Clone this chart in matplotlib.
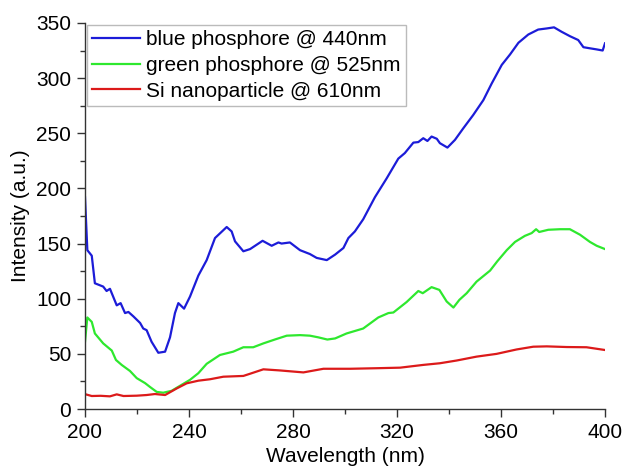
import matplotlib

matplotlib.use("Agg")
import matplotlib.pyplot as plt
from matplotlib.ticker import MultipleLocator

plt.rcParams["font.family"] = ["Liberation Sans", "DejaVu Sans"]

# Values
blue_x = [200, 200.9, 202.6, 203.8, 207, 208.3, 209.6, 212.2, 213.7, 215.4, 216.7,
          218.6, 221.2, 222.4, 223.7, 225.6, 228.2, 230.8, 232.7, 234.6, 235.9,
          238.1, 240.4, 243.6, 246.8, 250, 254.5, 256.4, 257.7, 260.9, 263.5,
          268.3, 271.8, 274.4, 275.6, 278.8, 282.7, 286.5, 289.1, 293, 296.2,
          299.4, 301.3, 303.8, 307, 311.5, 316, 320.5, 323, 326.3, 328.2, 330.1,
          331.7, 333.3, 335.3, 336.5, 339.4, 342.3, 345.5, 349.3, 353.2, 356.4,
          360.3, 363.5, 366.7, 370.5, 374.3, 377.6, 380.4, 383.3, 386.5, 389.7,
          391.7, 394.2, 396.8, 399.1, 400]
blue_y = [192, 144, 139, 114, 111, 107, 109, 94, 96, 87, 88,
          84, 78, 73, 71.5, 61, 51, 52, 65, 87, 96,
          91, 102, 121, 135, 155, 165, 161, 152, 143, 145,
          152.5, 148, 151, 150, 151, 144, 140.5, 137, 135, 140,
          146, 155, 161, 172, 192, 209, 227, 232, 241.5, 242, 245.5,
          243, 247, 245, 241, 237, 244, 254.5, 266.5, 280, 295,
          312, 321.5, 332, 339.5, 344, 345, 346, 342, 338, 334.5,
          328, 327, 326, 325, 331.5]

green_x = [200, 200.9, 202.6, 203.8, 207, 210.3, 211.9, 214.1, 217.3, 219.9, 223.1,
           225, 227.6, 230.1, 233.3, 236.5, 240.4, 243.6, 246.8, 251.9, 257,
           260.9, 264.7, 268.6, 273, 277.6, 282.7, 286.5, 289.7, 293.2, 296.2,
           300.6, 307, 312.8, 316.7, 318.6, 323.7, 328.2, 329.9, 333.3, 336.3,
           339.1, 341.7, 344, 346.8, 350.6, 355.8, 358.6, 362.2, 365.4, 369.2,
           371.8, 373.5, 374.7, 378.2, 382.7, 386.5, 390.4, 394.2, 396.8, 400]
green_y = [61, 83, 79, 68.5, 59.5, 53, 44.5, 40, 34.5, 28, 23.5,
           20, 15.5, 14.8, 16.5, 21, 26.5, 32.5, 41, 49, 52,
           56, 56, 59.5, 63, 66.5, 67, 66.5, 65, 63, 64,
           68.5, 73, 83, 87, 87.5, 97, 107, 105, 110.5, 108,
           97.5, 92, 99, 105, 115.5, 125.5, 134, 144, 151.5, 157,
           159.5, 163, 160.5, 162.5, 163, 163, 158, 151.5, 148, 145]

red_x = [200, 202.6, 206, 209.6, 212.2, 214.8, 219.9, 223.7, 226.9, 230.8, 235.3,
         239.1, 243.6, 248.1, 253.2, 260.9, 263.5, 268.6, 274.9, 284, 291.7,
         302, 312.2, 321.2, 330.1, 336.5, 343, 350.6, 358.3, 366, 372.4,
         377.6, 385.3, 392.9, 400]
red_y = [13.5, 11.8, 12, 11.5, 13.3, 11.8, 12.1, 12.7, 13.6, 12.7, 18.7,
         23.3, 25.7, 27, 29.3, 30, 32, 36, 35, 33.2, 36.5,
         36.5, 37, 37.5, 40, 41.5, 44, 47.5, 50, 54, 56.5,
         56.8, 56.2, 56, 53.5]

labels = ["blue phosphore @ 440nm", "green phosphore @ 525nm", "Si nanoparticle @ 610nm"]
colors = ["#1c1cd8", "#2ee82e", "#dc1a1a"]

fig = plt.figure(figsize=(6.25, 4.68), dpi=100)
ax = fig.add_axes([0.136, 0.126, 0.832, 0.825])

ax.plot(blue_x, blue_y, color=colors[0], lw=1.6, label=labels[0])
ax.plot(green_x, green_y, color=colors[1], lw=1.6, label=labels[1])
ax.plot(red_x, red_y, color=colors[2], lw=1.6, label=labels[2])

ax.set_xlim(200, 400)
ax.set_ylim(0, 350)
ax.xaxis.set_major_locator(MultipleLocator(40))
ax.xaxis.set_minor_locator(MultipleLocator(20))
ax.yaxis.set_major_locator(MultipleLocator(50))
ax.yaxis.set_minor_locator(MultipleLocator(25))

for side in ("top", "right"):
    ax.spines[side].set_visible(False)
for side in ("left", "bottom"):
    ax.spines[side].set_color("#333333")
    ax.spines[side].set_linewidth(1.0)
ax.tick_params(which="major", direction="out", length=6, width=1, labelsize=15,
               color="#333333", pad=4)
ax.tick_params(which="minor", direction="out", length=3.5, width=1, color="#333333")

ax.set_xlabel("Wavelength (nm)", fontsize=15, labelpad=4)
ax.set_ylabel("Intensity (a.u.)", fontsize=15, labelpad=4)

leg = ax.legend(loc="upper left", fontsize=15, frameon=True, fancybox=False,
                borderaxespad=0.1, handlelength=2.3, handletextpad=0.3,
                labelspacing=0.32, borderpad=0.25, edgecolor="#aaaaaa")
leg.get_frame().set_linewidth(1.0)

fig.savefig("out.png", dpi=100)
